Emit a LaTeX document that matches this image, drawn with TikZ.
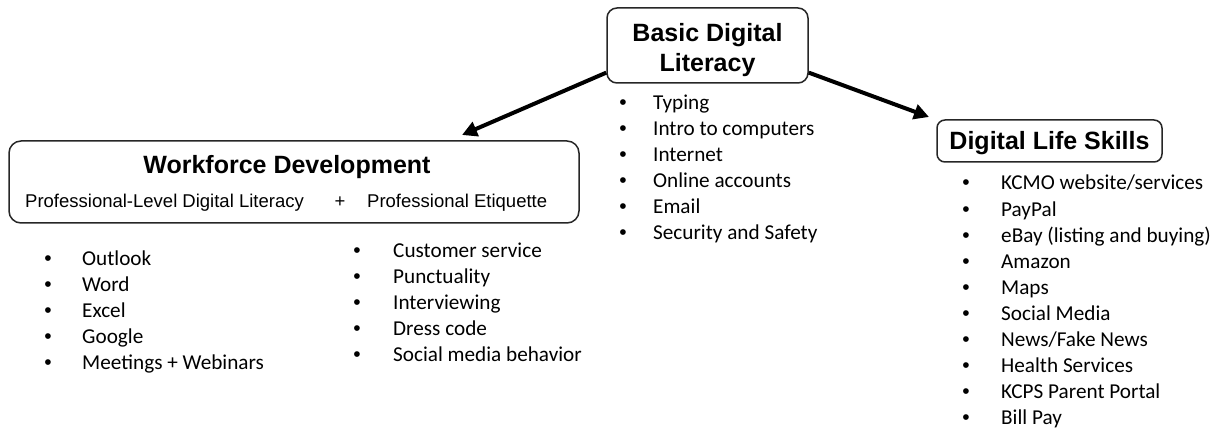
\documentclass[tikz,border=0pt]{standalone}
\usepackage{fontspec}
\setmainfont{Carlito}
\newfontfamily\hfont{Liberation Sans}
\usetikzlibrary{arrows.meta}
\begin{document}
\begin{tikzpicture}[x=1pt,y=-1pt,
 box/.style={draw=black!85, line width=1.5pt, rounded corners=10pt, fill=white, inner sep=0pt},
 item/.style={anchor=base west, inner sep=0pt, font=\fontsize{21.2}{26}\selectfont},
 bul/.style={anchor=base, inner sep=0pt, font=\hfont\fontsize{21}{26}\selectfont},
 conn/.style={line width=4pt, -{Triangle[length=15pt,width=15pt]}},
 head/.style={anchor=base, inner sep=0pt, font=\hfont\bfseries\fontsize{25}{30}\selectfont},
 sub/.style={anchor=base west, inner sep=0pt, font=\hfont\fontsize{18.5}{22}\selectfont}]
\useasboundingbox (0,0) rectangle (1221,430);
% boxes
\node[box, minimum width=201pt, minimum height=75pt] (top) at (707.5,45.5) {};
\node[box, rounded corners=12pt, minimum width=570pt, minimum height=82pt] (wf) at (294,182) {};
\node[box, rounded corners=8pt, minimum width=225pt, minimum height=42pt] (dls) at (1049.5,141) {};
% headings
\node[head] (t1) at (707.5,42) {Basic Digital};
\node[head] (t2) at (707.5,72) {Literacy};
\node[head] (t3) at (287,174) {Workforce Development};
\node[head] (t4) at (1049.5,150) {Digital Life Skills};
\node[sub] (s1) at (25,208) {Professional-Level Digital Literacy};
\node[sub, anchor=base] (s2) at (340,208) {+};
\node[sub] (s3) at (367,208) {Professional Etiquette};
% connectors
\coordinate (lt) at (462,135);
\coordinate (rt) at (929,117);
\draw[conn] (top.195) -- (lt);
\draw[conn] (top.-15) -- (rt);
% lists
\foreach \t [count=\i] in {Typing,Intro to computers,Internet,Online accounts,Email,Security and Safety}{
  \node[bul] (ba\i) at (623,{110+26*(\i-1)}) {•};
  \node[item] (a\i) at (653,{110+26*(\i-1)}) {\t};
}
\foreach \t [count=\i] in {Outlook,Word,Excel,Google,Meetings + Webinars}{
  \node[bul] (bb\i) at (48,{266+26*(\i-1)}) {•};
  \node[item] (b\i) at (82,{266+26*(\i-1)}) {\t};
}
\foreach \t [count=\i] in {Customer service,Punctuality,Interviewing,Dress code,Social media behavior}{
  \node[bul] (bc\i) at (357,{258+26*(\i-1)}) {•};
  \node[item] (c\i) at (393,{258+26*(\i-1)}) {\t};
}
\foreach \t [count=\i] in {KCMO website/services,PayPal,eBay (listing and buying),Amazon,Maps,Social Media,News/Fake News,Health Services,KCPS Parent Portal,Bill Pay}{
  \node[bul] (bd\i) at (966,{190+26.1*(\i-1)}) {•};
  \node[item] (d\i) at (1001,{190+26.1*(\i-1)}) {\t};
}
\end{tikzpicture}
\end{document}
